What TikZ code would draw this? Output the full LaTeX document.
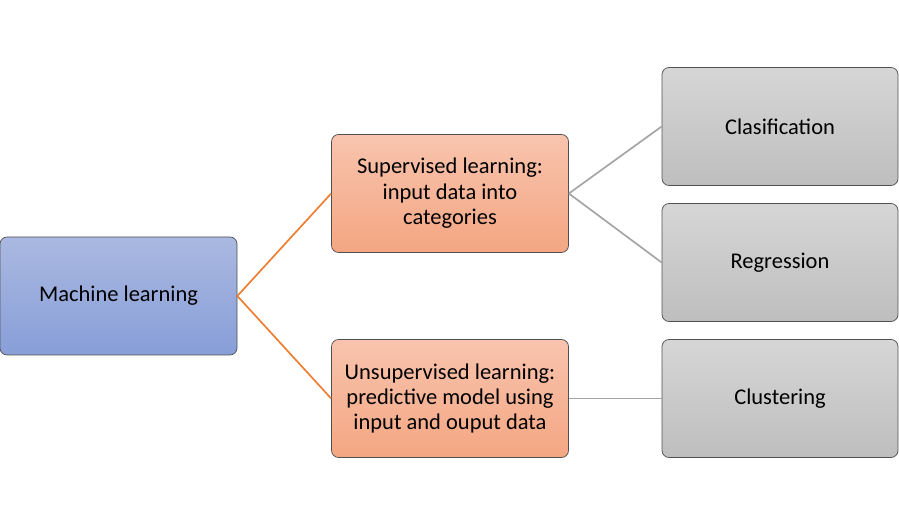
\documentclass[tikz,border=0pt]{standalone}
\usepackage{fontspec}
\setmainfont{Carlito}
\usepackage{tikz}
\usetikzlibrary{positioning}
\definecolor{mlblue}{RGB}{170,185,225}
\definecolor{mlbluedark}{RGB}{136,158,216}
\definecolor{suporange}{RGB}{248,196,174}
\definecolor{suporangedark}{RGB}{244,166,130}
\definecolor{leafgray}{RGB}{214,214,214}
\definecolor{leafgraydark}{RGB}{190,190,190}
\definecolor{edgeorange}{RGB}{237,125,49}
\definecolor{edgegray}{RGB}{165,165,165}
\definecolor{boxborder}{RGB}{80,80,80}

\begin{document}
\begin{tikzpicture}[
  box/.style={rectangle, rounded corners=5pt, draw=boxborder, line width=0.5pt,
              minimum width=5.925cm, minimum height=2.95cm,
              align=center, text centered, font=\fontsize{16}{18.1}\selectfont},
  rootbox/.style={box, top color=mlblue, bottom color=mlbluedark},
  midbox/.style={box, top color=suporange, bottom color=suporangedark},
  leafbox/.style={box, minimum width=5.9cm, top color=leafgray, bottom color=leafgraydark},
  orangeline/.style={draw=edgeorange, line width=1.2pt},
  grayline/.style={draw=edgegray, line width=1.2pt}
]
  \useasboundingbox (0,0) rectangle (22.475,13.125);

  %% Root
  \node[rootbox] (ml) at (2.9625,5.725) {Machine learning};

  %% Learning types
  \node[midbox] (sup)   at (11.25,8.2875) {Supervised learning:\\input data into\\categories};
  \node[midbox] (unsup) at (11.25,3.1625) {Unsupervised learning:\\predictive model using\\input and ouput data};

  %% Tasks
  \node[leafbox] (clas) at (19.5,9.9625) {Clasification};
  \node[leafbox] (reg)  at (19.5,6.5625) {Regression};
  \node[leafbox] (clu)  at (19.5,3.1625) {Clustering};

  %% Connections
  \draw[orangeline] (ml.east) -- (sup.west);
  \draw[orangeline] (ml.east) -- (unsup.west);
  \draw[grayline] (sup.east) -- (clas.west);
  \draw[grayline] (sup.east) -- (reg.west);
  \draw[grayline] (unsup.east) -- (clu.west);

\end{tikzpicture}
\end{document}
